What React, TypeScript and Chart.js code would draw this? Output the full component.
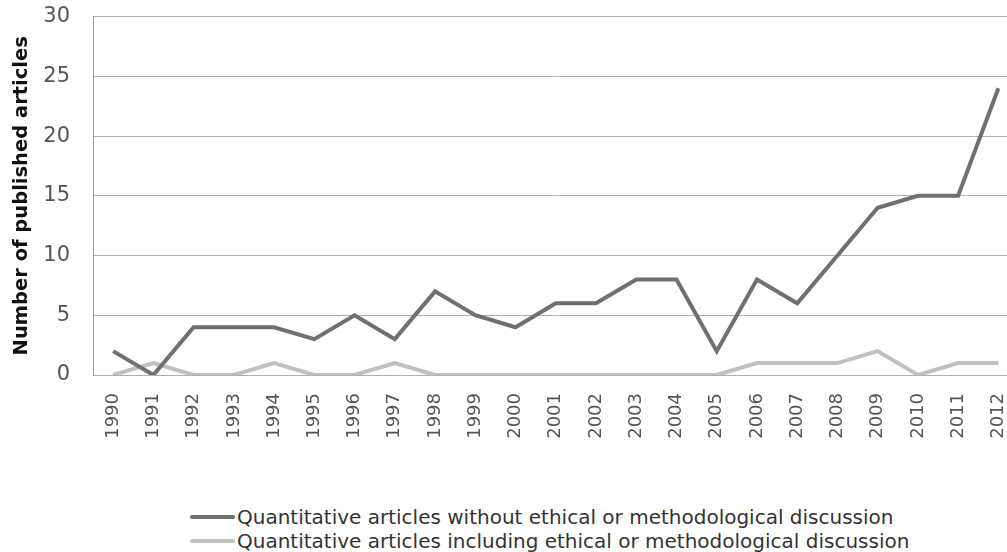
import React, { useEffect, useRef } from "react";
import { Chart, registerables } from "chart.js";

Chart.register(...registerables);

const years: string[] = [
  "1990", "1991", "1992", "1993", "1994", "1995", "1996", "1997", "1998", "1999", "2000", "2001",
  "2002", "2003", "2004", "2005", "2006", "2007", "2008", "2009", "2010", "2011", "2012",
];
const withoutDiscussion: number[] = [2, 0, 4, 4, 4, 3, 5, 3, 7, 5, 4, 6, 6, 8, 8, 2, 8, 6, 10, 14, 15, 15, 24];
const withDiscussion: number[] = [0, 1, 0, 0, 1, 0, 0, 1, 0, 0, 0, 0, 0, 0, 0, 0, 1, 1, 1, 2, 0, 1, 1];
const seriesNames: string[] = [
  "Quantitative articles without ethical or methodological discussion",
  "Quantitative articles including ethical or methodological discussion",
];
const seriesColors: string[] = ["#707070", "#c0c0c0"];
const yTicks: number[] = [0, 5, 10, 15, 20, 25, 30];

const FONT = "'DejaVu Sans', Verdana, sans-serif";
const SHIFT = 19;

export default function App() {
  const ref = useRef<HTMLCanvasElement | null>(null);

  useEffect(() => {
    if (!ref.current) return;
    const chart = new Chart(ref.current, {
      type: "line",
      data: {
        labels: years,
        datasets: [
          {
            label: seriesNames[0],
            data: withoutDiscussion,
            borderColor: seriesColors[0],
            backgroundColor: seriesColors[0],
            borderWidth: 4,
            pointRadius: 0,
            tension: 0,
            borderJoinStyle: "miter",
          },
          {
            label: seriesNames[1],
            data: withDiscussion,
            borderColor: seriesColors[1],
            backgroundColor: seriesColors[1],
            borderWidth: 4,
            pointRadius: 0,
            tension: 0,
            borderJoinStyle: "miter",
          },
        ],
      },
      options: {
        animation: false,
        responsive: false,
        maintainAspectRatio: false,
        layout: { padding: { top: 16, right: 0, left: 0, bottom: 0 } },
        plugins: {
          legend: { display: false },
          tooltip: { enabled: false },
        },
        scales: {
          x: {
            type: "category",
            offset: true,
            grid: { display: false, drawTicks: false },
            border: { display: false },
            ticks: {
              maxRotation: 90,
              minRotation: 90,
              autoSkip: false,
              padding: 18,
              color: "#555",
              font: { family: FONT, size: 18 },
            },
            afterFit: (scale: any) => {
              scale.height = 65;
            },
          },
          y: {
            min: 0,
            max: 30,
            afterBuildTicks: (scale: any) => {
              scale.ticks = yTicks.map((v) => ({ value: v }));
            },
            grid: { color: "#b0b0b0", lineWidth: 1, drawTicks: false },
            border: { display: true, color: "#a0a0a0", width: 1 },
            ticks: {
              padding: 23,
              color: "#555",
              font: { family: FONT, size: 21 },
            },
            title: {
              display: true,
              text: "Number of published articles",
              color: "#111",
              font: { family: FONT, size: 19.5, weight: "bold" },
              padding: { top: 10, bottom: 0 },
            },
            afterFit: (scale: any) => {
              scale.width = 93;
            },
          },
        },
      },
    });
    return () => chart.destroy();
  }, []);

  return (
    <div
      style={{
        position: "fixed",
        left: 0,
        top: 0,
        width: 1007,
        height: 552,
        overflow: "hidden",
        background: "#fff",
      }}
    >
      <canvas
        ref={ref}
        width={1038}
        height={440 + SHIFT}
        style={{ display: "block", position: "absolute", left: 0, top: -SHIFT }}
      />
      <div style={{ position: "absolute", left: 190, top: 505, fontFamily: FONT, fontSize: 20, color: "#333" }}>
        {seriesNames.map((name, i) => (
          <div key={name} style={{ display: "flex", alignItems: "center", height: 24, whiteSpace: "nowrap" }}>
            <span
              style={{
                display: "inline-block",
                width: 45,
                height: 4,
                background: seriesColors[i],
                borderRadius: 2,
                marginRight: 2,
              }}
            />
            <span>{name}</span>
          </div>
        ))}
      </div>
    </div>
  );
}
